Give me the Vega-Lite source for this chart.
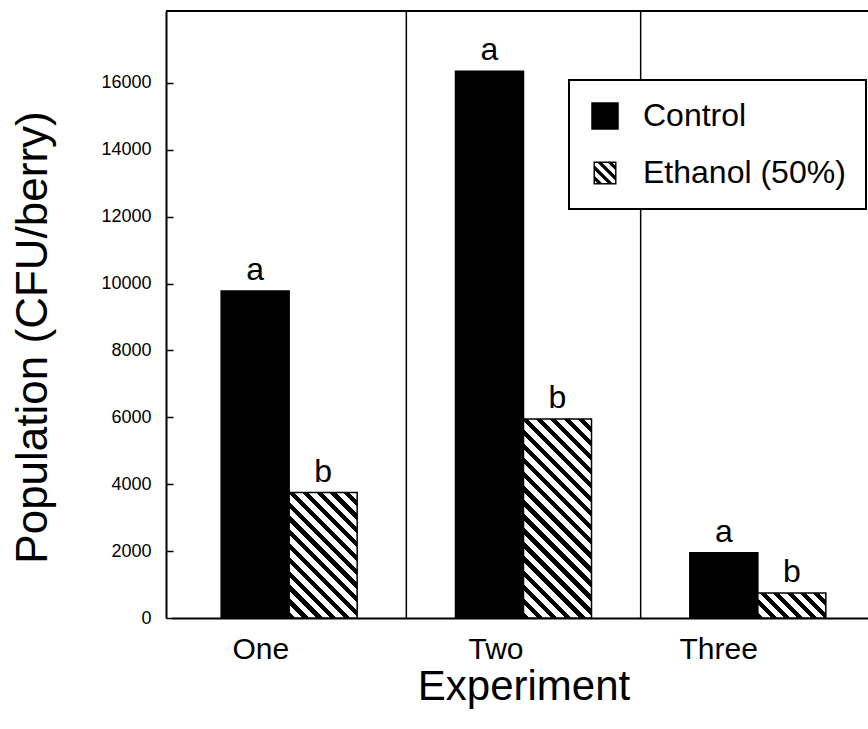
{
  "$schema": "https://vega.github.io/schema/vega-lite/v6.json",
  "width": 702,
  "height": 607,
  "autosize": {"type": "none"},
  "padding": {"left": 166, "top": 11, "right": 0, "bottom": 111},
  "background": "white",
  "config": {
    "view": {"stroke": null},
    "font": "Liberation Sans",
    "axis": {"grid": false, "domainColor": "black", "domainWidth": 2, "tickColor": "black", "labelColor": "black", "titleColor": "black", "titleFontWeight": "normal", "titleFont": "Liberation Sans", "labelFont": "Liberation Sans"},
    "legend": {"strokeColor": "black", "strokeWidth": 2, "fillColor": "white"}
  },
  "layer": [
    {
      "data": {"values": [{"Experiment": "Two"}, {"Experiment": "Three"}]},
      "mark": {"type": "rule", "color": "black", "strokeWidth": 1.5},
      "encoding": {
        "x": {"field": "Experiment", "type": "nominal", "bandPosition": 0, "scale": {"domain": ["One", "Two", "Three"], "range": [6, 709], "paddingInner": 0, "paddingOuter": 0}}
      }
    },
    {
      "data": {"values": [{}]},
      "mark": {"type": "rule", "color": "black", "strokeWidth": 2},
      "encoding": {"y": {"datum": 18150, "type": "quantitative"}}
    },
    {
      "data": {"values": [
        {"Experiment": "One", "Treatment": "Control", "Population": 9780, "Letter": "a"},
        {"Experiment": "One", "Treatment": "Ethanol (50%)", "Population": 3750, "Letter": "b"},
        {"Experiment": "Two", "Treatment": "Control", "Population": 16350, "Letter": "a"},
        {"Experiment": "Two", "Treatment": "Ethanol (50%)", "Population": 5950, "Letter": "b"},
        {"Experiment": "Three", "Treatment": "Control", "Population": 1950, "Letter": "a"},
        {"Experiment": "Three", "Treatment": "Ethanol (50%)", "Population": 750, "Letter": "b"}
      ]},
      "layer": [
        {
          "mark": {"type": "bar", "stroke": "black"},
          "encoding": {
            "x": {"field": "Experiment", "type": "nominal", "scale": {"domain": ["One", "Two", "Three"], "range": [6, 709], "paddingInner": 0, "paddingOuter": 0},
              "axis": {"title": "Experiment", "labelAngle": 0, "ticks": false, "labelFontSize": 30, "labelPadding": 31, "titleFontSize": 42, "titlePadding": 2}},
            "xOffset": {"field": "Treatment", "type": "nominal", "scale": {"domain": ["Control", "Ethanol (50%)"], "paddingInner": 0, "paddingOuter": 0.723}},
            "y": {"field": "Population", "type": "quantitative", "scale": {"domain": [0, 18150], "nice": false},
              "axis": {"title": "Population (CFU/berry)", "format": "d", "values": [0, 2000, 4000, 6000, 8000, 10000, 12000, 14000, 16000], "tickSize": -7, "tickWidth": 1.5, "labelFontSize": 18, "labelPadding": 22, "titleFontSize": 44, "titlePadding": 45, "titleY": 326}},
            "strokeWidth": {
              "field": "Treatment", "type": "nominal",
              "scale": {"domain": ["Control", "Ethanol (50%)"], "range": [4.5, 0]},
              "legend": {"title": null, "orient": "none", "legendX": 403, "legendY": 69},
              "condition": {"test": "true", "value": 1.5}
            },
            "fill": {
              "field": "Treatment", "type": "nominal",
              "scale": {"domain": ["Control", "Ethanol (50%)"], "range": ["black", "black"]},
              "legend": {"title": null, "orient": "none", "legendX": 403, "legendY": 69,
                "symbolType": "M-1,-1H1V1H-1Z M-0.875,-0.875V0.875H0.875V-0.875Z M-0.625,-0.875L-0.225,-0.875L0.875,0.225L0.875,0.625Z M0.275,-0.875L0.675,-0.875L0.875,-0.675L0.875,-0.275Z M-0.875,-0.625L0.625,0.875L0.225,0.875L-0.875,-0.225Z M-0.875,0.275L-0.275,0.875L-0.675,0.875L-0.875,0.675Z",
                "symbolSize": 529, "labelFontSize": 32, "labelFont": "Liberation Sans", "labelColor": "black", "labelOffset": 22, "rowPadding": 20, "padding": 20, "labelLimit": 400, "strokeColor": "black", "fillColor": "white",
                "encode": {"symbols": {"update": {"stroke": {"value": "black"}}}}},
              "condition": [
                {"test": "datum.Treatment === 'Ethanol (50%)' && datum.Experiment === 'One'", "value": {"gradient": "linear", "x1": 0, "y1": 1, "x2": 0.64627, "y2": -0.1918, "stops": [
                  {"offset": 0, "color": "black"}, {"offset": 0.032143, "color": "black"}, {"offset": 0.032143, "color": "white"}, {"offset": 0.071429, "color": "white"},
                  {"offset": 0.071429, "color": "black"}, {"offset": 0.103571, "color": "black"}, {"offset": 0.103571, "color": "white"}, {"offset": 0.142857, "color": "white"},
                  {"offset": 0.142857, "color": "black"}, {"offset": 0.175, "color": "black"}, {"offset": 0.175, "color": "white"}, {"offset": 0.214286, "color": "white"},
                  {"offset": 0.214286, "color": "black"}, {"offset": 0.246429, "color": "black"}, {"offset": 0.246429, "color": "white"}, {"offset": 0.285714, "color": "white"},
                  {"offset": 0.285714, "color": "black"}, {"offset": 0.317857, "color": "black"}, {"offset": 0.317857, "color": "white"}, {"offset": 0.357143, "color": "white"},
                  {"offset": 0.357143, "color": "black"}, {"offset": 0.389286, "color": "black"}, {"offset": 0.389286, "color": "white"}, {"offset": 0.428571, "color": "white"},
                  {"offset": 0.428571, "color": "black"}, {"offset": 0.460714, "color": "black"}, {"offset": 0.460714, "color": "white"}, {"offset": 0.5, "color": "white"},
                  {"offset": 0.5, "color": "black"}, {"offset": 0.532143, "color": "black"}, {"offset": 0.532143, "color": "white"}, {"offset": 0.571429, "color": "white"},
                  {"offset": 0.571429, "color": "black"}, {"offset": 0.603571, "color": "black"}, {"offset": 0.603571, "color": "white"}, {"offset": 0.642857, "color": "white"},
                  {"offset": 0.642857, "color": "black"}, {"offset": 0.675, "color": "black"}, {"offset": 0.675, "color": "white"}, {"offset": 0.714286, "color": "white"},
                  {"offset": 0.714286, "color": "black"}, {"offset": 0.746429, "color": "black"}, {"offset": 0.746429, "color": "white"}, {"offset": 0.785714, "color": "white"},
                  {"offset": 0.785714, "color": "black"}, {"offset": 0.817857, "color": "black"}, {"offset": 0.817857, "color": "white"}, {"offset": 0.857143, "color": "white"},
                  {"offset": 0.857143, "color": "black"}, {"offset": 0.889286, "color": "black"}, {"offset": 0.889286, "color": "white"}, {"offset": 0.928571, "color": "white"},
                  {"offset": 0.928571, "color": "black"}, {"offset": 0.960714, "color": "black"}, {"offset": 0.960714, "color": "white"}, {"offset": 1, "color": "white"}
                ]}},
                {"test": "datum.Treatment === 'Ethanol (50%)' && datum.Experiment === 'Two'", "value": {"gradient": "linear", "x1": 0, "y1": 1, "x2": 0.41056, "y2": -0.20143, "stops": [
                  {"offset": 0, "color": "black"}, {"offset": 0.023684, "color": "black"}, {"offset": 0.023684, "color": "white"}, {"offset": 0.052632, "color": "white"},
                  {"offset": 0.052632, "color": "black"}, {"offset": 0.076316, "color": "black"}, {"offset": 0.076316, "color": "white"}, {"offset": 0.105263, "color": "white"},
                  {"offset": 0.105263, "color": "black"}, {"offset": 0.128947, "color": "black"}, {"offset": 0.128947, "color": "white"}, {"offset": 0.157895, "color": "white"},
                  {"offset": 0.157895, "color": "black"}, {"offset": 0.181579, "color": "black"}, {"offset": 0.181579, "color": "white"}, {"offset": 0.210526, "color": "white"},
                  {"offset": 0.210526, "color": "black"}, {"offset": 0.234211, "color": "black"}, {"offset": 0.234211, "color": "white"}, {"offset": 0.263158, "color": "white"},
                  {"offset": 0.263158, "color": "black"}, {"offset": 0.286842, "color": "black"}, {"offset": 0.286842, "color": "white"}, {"offset": 0.315789, "color": "white"},
                  {"offset": 0.315789, "color": "black"}, {"offset": 0.339474, "color": "black"}, {"offset": 0.339474, "color": "white"}, {"offset": 0.368421, "color": "white"},
                  {"offset": 0.368421, "color": "black"}, {"offset": 0.392105, "color": "black"}, {"offset": 0.392105, "color": "white"}, {"offset": 0.421053, "color": "white"},
                  {"offset": 0.421053, "color": "black"}, {"offset": 0.444737, "color": "black"}, {"offset": 0.444737, "color": "white"}, {"offset": 0.473684, "color": "white"},
                  {"offset": 0.473684, "color": "black"}, {"offset": 0.497368, "color": "black"}, {"offset": 0.497368, "color": "white"}, {"offset": 0.526316, "color": "white"},
                  {"offset": 0.526316, "color": "black"}, {"offset": 0.55, "color": "black"}, {"offset": 0.55, "color": "white"}, {"offset": 0.578947, "color": "white"},
                  {"offset": 0.578947, "color": "black"}, {"offset": 0.602632, "color": "black"}, {"offset": 0.602632, "color": "white"}, {"offset": 0.631579, "color": "white"},
                  {"offset": 0.631579, "color": "black"}, {"offset": 0.655263, "color": "black"}, {"offset": 0.655263, "color": "white"}, {"offset": 0.684211, "color": "white"},
                  {"offset": 0.684211, "color": "black"}, {"offset": 0.707895, "color": "black"}, {"offset": 0.707895, "color": "white"}, {"offset": 0.736842, "color": "white"},
                  {"offset": 0.736842, "color": "black"}, {"offset": 0.760526, "color": "black"}, {"offset": 0.760526, "color": "white"}, {"offset": 0.789474, "color": "white"},
                  {"offset": 0.789474, "color": "black"}, {"offset": 0.813158, "color": "black"}, {"offset": 0.813158, "color": "white"}, {"offset": 0.842105, "color": "white"},
                  {"offset": 0.842105, "color": "black"}, {"offset": 0.865789, "color": "black"}, {"offset": 0.865789, "color": "white"}, {"offset": 0.894737, "color": "white"},
                  {"offset": 0.894737, "color": "black"}, {"offset": 0.918421, "color": "black"}, {"offset": 0.918421, "color": "white"}, {"offset": 0.947368, "color": "white"},
                  {"offset": 0.947368, "color": "black"}, {"offset": 0.971053, "color": "black"}, {"offset": 0.971053, "color": "white"}, {"offset": 1, "color": "white"}
                ]}},
                {"test": "datum.Treatment === 'Ethanol (50%)' && datum.Experiment === 'Three'", "value": {"gradient": "linear", "x1": 0, "y1": 1, "x2": 1.20494, "y2": 0.55559, "stops": [
                  {"offset": 0, "color": "black"}, {"offset": 0.064286, "color": "black"}, {"offset": 0.064286, "color": "white"}, {"offset": 0.142857, "color": "white"},
                  {"offset": 0.142857, "color": "black"}, {"offset": 0.207143, "color": "black"}, {"offset": 0.207143, "color": "white"}, {"offset": 0.285714, "color": "white"},
                  {"offset": 0.285714, "color": "black"}, {"offset": 0.35, "color": "black"}, {"offset": 0.35, "color": "white"}, {"offset": 0.428571, "color": "white"},
                  {"offset": 0.428571, "color": "black"}, {"offset": 0.492857, "color": "black"}, {"offset": 0.492857, "color": "white"}, {"offset": 0.571429, "color": "white"},
                  {"offset": 0.571429, "color": "black"}, {"offset": 0.635714, "color": "black"}, {"offset": 0.635714, "color": "white"}, {"offset": 0.714286, "color": "white"},
                  {"offset": 0.714286, "color": "black"}, {"offset": 0.778571, "color": "black"}, {"offset": 0.778571, "color": "white"}, {"offset": 0.857143, "color": "white"},
                  {"offset": 0.857143, "color": "black"}, {"offset": 0.921429, "color": "black"}, {"offset": 0.921429, "color": "white"}, {"offset": 1, "color": "white"}
                ]}}
              ]
            }
          }
        },
        {
          "mark": {"type": "text", "baseline": "bottom", "dy": -4, "fontSize": 32, "font": "Liberation Sans", "color": "black"},
          "encoding": {
            "x": {"field": "Experiment", "type": "nominal", "scale": {"domain": ["One", "Two", "Three"], "range": [6, 709], "paddingInner": 0, "paddingOuter": 0}},
            "xOffset": {"field": "Treatment", "type": "nominal", "scale": {"domain": ["Control", "Ethanol (50%)"], "paddingInner": 0, "paddingOuter": 0.723}},
            "y": {"field": "Population", "type": "quantitative"},
            "text": {"field": "Letter", "type": "nominal"}
          }
        }
      ]
    }
  ]
}
